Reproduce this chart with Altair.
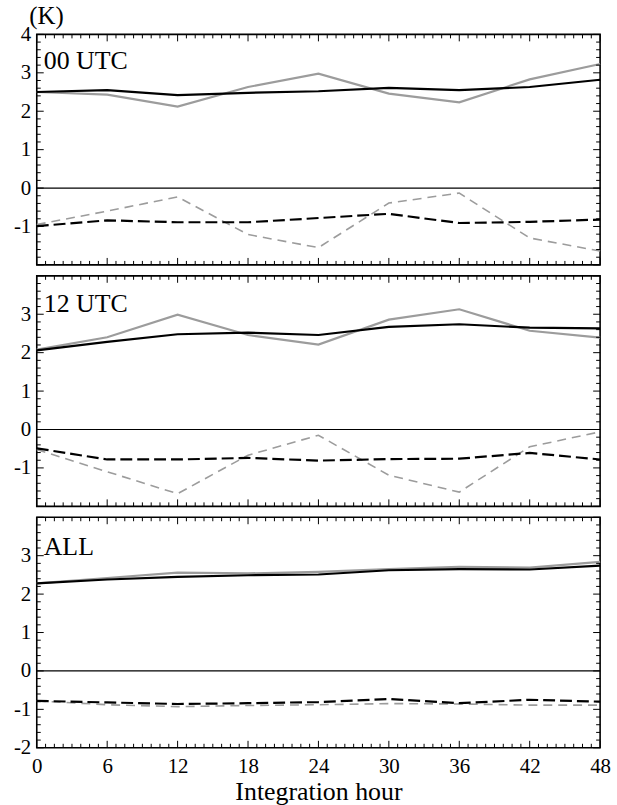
import altair as alt
import pandas as pd
import numpy as np

hours = [0, 6, 12, 18, 24, 30, 36, 42, 48]

panel_names = ["00 UTC", "12 UTC", "ALL"]

utc00_black_solid = [2.50, 2.55, 2.42, 2.48, 2.52, 2.61, 2.55, 2.63, 2.82]
utc00_gray_solid = [2.50, 2.43, 2.12, 2.63, 2.98, 2.46, 2.23, 2.83, 3.23]
utc00_black_dash = [-0.99, -0.84, -0.89, -0.89, -0.78, -0.67, -0.91, -0.88, -0.82]
utc00_gray_dash = [-0.95, -0.60, -0.23, -1.21, -1.55, -0.39, -0.13, -1.30, -1.64]

utc12_black_solid = [2.06, 2.28, 2.48, 2.52, 2.46, 2.67, 2.74, 2.65, 2.63]
utc12_gray_solid = [2.08, 2.40, 2.99, 2.46, 2.21, 2.86, 3.13, 2.57, 2.39]
utc12_black_dash = [-0.49, -0.78, -0.78, -0.74, -0.81, -0.77, -0.76, -0.61, -0.78]
utc12_gray_dash = [-0.52, -1.10, -1.67, -0.67, -0.15, -1.19, -1.63, -0.45, -0.06]

all_black_solid = [2.28, 2.38, 2.45, 2.49, 2.51, 2.62, 2.65, 2.64, 2.74]
all_gray_solid = [2.28, 2.42, 2.56, 2.54, 2.58, 2.65, 2.71, 2.69, 2.84]
all_black_dash = [-0.78, -0.82, -0.86, -0.84, -0.81, -0.73, -0.84, -0.75, -0.80]
all_gray_dash = [-0.78, -0.88, -0.93, -0.90, -0.88, -0.85, -0.86, -0.89, -0.89]

x_tick_labels = [0, 6, 12, 18, 24, 30, 36, 42, 48]
y_labels_top = [-1, 0, 1, 2, 3, 4]
y_labels_mid = [-1, 0, 1, 2, 3]
y_labels_bot = [-2, -1, 0, 1, 2, 3]

x_major = x_tick_labels
x_minor = [round(i * 0.75, 2) for i in range(65) if (i * 0.75) % 6 != 0]
y_major = [-2, -1, 0, 1, 2, 3, 4]
y_minor = [v for v in np.round(np.arange(-2, 4.001, 0.2), 1).tolist() if abs(v - round(v)) > 1e-6]

W, H = 567, 232
FONT = "Liberation Serif"
GRAY = "#9c9c9c"

xs = alt.Scale(domain=[0, 48], nice=False, zero=False)
ys = alt.Scale(domain=[-2, 4], nice=False, zero=False)


def panel(name, bs, gs, bd, gd, ylabels, show_x, label_y, ktitle):
    xaxis = None
    if show_x:
        xaxis = alt.Axis(values=x_tick_labels, title="Integration hour", ticks=False,
                         domain=False, grid=False, labelPadding=8, titlePadding=2,
                         labelFontSize=21, titleFontSize=26, labelFont=FONT, titleFont=FONT,
                         titleFontWeight="normal", labelColor="black", titleColor="black",
                         labelFlush=False, labelOverlap=False)
    yaxis_kwargs = dict(values=ylabels, ticks=False, domain=False, grid=False,
                        labelPadding=6, labelFontSize=21, labelFont=FONT,
                        labelColor="black", labelExpr="toString(datum.value)",
                        labelOverlap=False, labelFlush=False)
    if ktitle:
        yaxis = alt.Axis(title="(K)", titleAngle=0, titleAlign="left",
                         titleBaseline="alphabetic", titleX=-8, titleY=-11,
                         titleFontSize=25, titleFont=FONT, titleFontWeight="normal",
                         titleColor="black", **yaxis_kwargs)
    else:
        yaxis = alt.Axis(title=None, **yaxis_kwargs)

    X = lambda f: alt.X(f, scale=xs, axis=xaxis, title="Integration hour" if show_x else None)
    Y = lambda f: alt.Y(f, scale=ys, axis=yaxis, title="(K)" if ktitle else None)

    def df(v):
        return pd.DataFrame({"hour": hours, "value": v})

    layers = []
    layers.append(alt.Chart(df(gs)).mark_line(color=GRAY, strokeWidth=2.2).encode(
        x=X("hour:Q"), y=Y("value:Q")))
    layers.append(alt.Chart(df(gd)).mark_line(color=GRAY, strokeWidth=1.6, strokeDash=[9, 6]).encode(
        x=X("hour:Q"), y=Y("value:Q")))
    layers.append(alt.Chart(pd.DataFrame({"z": [0]})).mark_rule(color="black", strokeWidth=1.2).encode(
        y=Y("z:Q")))
    layers.append(alt.Chart(df(bs)).mark_line(color="black", strokeWidth=2.2).encode(
        x=X("hour:Q"), y=Y("value:Q")))
    layers.append(alt.Chart(df(bd)).mark_line(color="black", strokeWidth=2.2, strokeDash=[12, 5]).encode(
        x=X("hour:Q"), y=Y("value:Q")))
    layers.append(alt.Chart(pd.DataFrame({"t": [name]})).mark_text(
        font=FONT, fontSize=26, align="left", baseline="alphabetic", color="black").encode(
        text="t:N", x=alt.value(7), y=alt.value(label_y)))

    for vals, ln in ((x_major, 7), (x_minor, 4)):
        d = pd.DataFrame({"p": vals})
        base = alt.Chart(d).mark_rule(color="black", strokeWidth=1)
        layers.append(base.encode(x=X("p:Q"), y=alt.value(H), y2=alt.value(H - ln)))
        layers.append(base.encode(x=X("p:Q"), y=alt.value(0), y2=alt.value(ln)))
    for vals, ln in ((y_major, 7), (y_minor, 4)):
        d = pd.DataFrame({"p": vals})
        base = alt.Chart(d).mark_rule(color="black", strokeWidth=1)
        layers.append(base.encode(y=Y("p:Q"), x=alt.value(0), x2=alt.value(ln)))
        layers.append(base.encode(y=Y("p:Q"), x=alt.value(W), x2=alt.value(W - ln)))

    return alt.layer(*layers).properties(width=W, height=H)


p1 = panel(panel_names[0], utc00_black_solid, utc00_gray_solid, utc00_black_dash, utc00_gray_dash,
           y_labels_top, False, 35, True)
p2 = panel(panel_names[1], utc12_black_solid, utc12_gray_solid, utc12_black_dash, utc12_gray_dash,
           y_labels_mid, False, 36, False)
p3 = panel(panel_names[2], all_black_solid, all_gray_solid, all_black_dash, all_gray_dash,
           y_labels_bot, True, 38, False)

chart = alt.vconcat(p1, p2, p3, spacing=11, bounds="flush").properties(
    padding={"left": 12, "top": 0, "right": 5, "bottom": 0},
    background="white",
).configure_view(stroke="black", strokeWidth=1.6).configure_axis(grid=False)

chart.save("out.html", embed_options={"renderer": "svg", "actions": False})
